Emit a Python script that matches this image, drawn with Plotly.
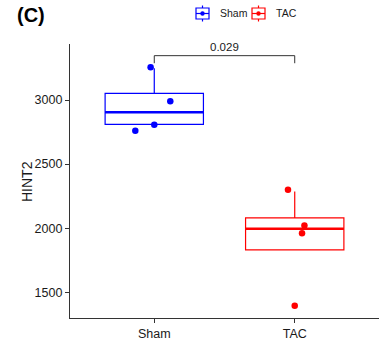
import plotly.graph_objects as go

# ---- data ----
groups = ["Sham", "TAC"]
colors = ["#0000FF", "#FF0000"]
q1 = [2810, 1830]
median = [2904, 1995]
q3 = [3052, 2080]
lower_whisker = [2810, 1830]
upper_whisker = [3247, 2286]
sham_points = [3255, 2990, 2807, 2760]
sham_jitter = [-0.026, 0.114, 0.0, -0.135]
tac_points = [2300, 2020, 1960, 1395]
tac_jitter = [-0.048, 0.069, 0.052, 0.0]
p_value = "0.029"
bracket_top = 3346
bracket_foot = 3287
y_ticks = [1500, 2000, 2500, 3000]

points = [sham_points, tac_points]
jitters = [sham_jitter, tac_jitter]
BOX_W = 0.7

W, H = 382, 354
ML, MR, MT, MB = 70, 3, 44, 36
PW, PH = W - ML - MR, H - MT - MB


def px(X):
    return (X - ML) / PW


def py(Y):
    return (H - MB - Y) / PH


fig = go.Figure()
for i, g in enumerate(groups):
    xpos = i + 1
    fig.add_trace(go.Box(
        x=[xpos], q1=[q1[i]], median=[median[i]], q3=[q3[i]],
        lowerfence=[lower_whisker[i]], upperfence=[upper_whisker[i]],
        name=g, width=BOX_W, boxpoints=False, whiskerwidth=0,
        line=dict(color=colors[i], width=1.2),
        fillcolor="rgba(255,255,255,0)",
        showlegend=False, hoverinfo="skip",
    ))
    fig.add_trace(go.Scatter(
        x=[xpos - BOX_W / 2, xpos + BOX_W / 2], y=[median[i], median[i]],
        mode="lines", line=dict(color=colors[i], width=2.6),
        showlegend=False, hoverinfo="skip",
    ))
    fig.add_trace(go.Scatter(
        x=[xpos + j for j in jitters[i]], y=points[i],
        mode="markers", marker=dict(color=colors[i], size=6.5),
        showlegend=False, hoverinfo="skip",
    ))

# significance bracket
fig.add_trace(go.Scatter(
    x=[1, 1, 2, 2], y=[bracket_foot, bracket_top, bracket_top, bracket_foot],
    mode="lines", line=dict(color="#333333", width=1),
    showlegend=False, hoverinfo="skip",
))
fig.add_annotation(x=1.5, y=bracket_top, xref="x", yref="y", text=p_value,
                   showarrow=False, yanchor="bottom", yshift=1,
                   font=dict(size=11.5, color="#1a1a1a"))

# custom legend (box icon with whiskers + dot)
legend_x = [196, 252]
cy = 13.5
for i, g in enumerate(groups):
    x0 = legend_x[i]
    c = colors[i]
    cx = x0 + 6.5
    fig.add_shape(type="rect", xref="paper", yref="paper",
                  x0=px(x0), x1=px(x0 + 13), y0=py(cy + 5.5), y1=py(cy - 5.5),
                  line=dict(color=c, width=1.2), fillcolor="white")
    fig.add_shape(type="line", xref="paper", yref="paper",
                  x0=px(x0), x1=px(x0 + 13), y0=py(cy), y1=py(cy),
                  line=dict(color=c, width=1.2))
    fig.add_shape(type="line", xref="paper", yref="paper",
                  x0=px(cx), x1=px(cx), y0=py(cy - 8), y1=py(cy - 5.5),
                  line=dict(color=c, width=1.2))
    fig.add_shape(type="line", xref="paper", yref="paper",
                  x0=px(cx), x1=px(cx), y0=py(cy + 5.5), y1=py(cy + 8),
                  line=dict(color=c, width=1.2))
    fig.add_shape(type="circle", xref="paper", yref="paper",
                  x0=px(cx - 2.2), x1=px(cx + 2.2), y0=py(cy + 2.2), y1=py(cy - 2.2),
                  line=dict(color=c, width=0), fillcolor=c)
    fig.add_annotation(x=px(x0 + 22), y=py(cy), xref="paper", yref="paper", text=g,
                       showarrow=False, xanchor="left", yanchor="middle",
                       font=dict(size=10.5, color="#1a1a1a"))

fig.add_annotation(x=px(15), y=py(15), xref="paper", yref="paper", text="<b>(C)</b>",
                   showarrow=False, xanchor="left", yanchor="middle",
                   font=dict(size=20, color="black"))

fig.add_annotation(x=px(27), y=0.5, xref="paper", yref="paper", text="HINT2",
                   showarrow=False, textangle=-90, xanchor="center", yanchor="middle",
                   font=dict(size=14, color="#1a1a1a"))

fig.update_layout(
    width=W, height=H,
    margin=dict(l=ML, r=MR, t=MT, b=MB),
    plot_bgcolor="white", paper_bgcolor="white",
    font=dict(family="Liberation Sans, Arial, sans-serif", color="#1a1a1a", size=12),
    showlegend=False,
    xaxis=dict(range=[0.4, 2.6], tickvals=[1, 2], ticktext=groups,
               showgrid=False, zeroline=False, showline=True, linecolor="#333333",
               linewidth=1.2, ticks="outside", ticklen=4, tickcolor="#333333",
               tickfont=dict(size=12.5, color="#1a1a1a")),
    yaxis=dict(range=[1299, 3437], tickvals=y_ticks,
               showgrid=False, zeroline=False, showline=True, linecolor="#333333",
               linewidth=1.2, ticks="outside", ticklen=4, tickcolor="#333333",
               tickfont=dict(size=12.5, color="#1a1a1a")),
)

fig.write_html("out.html")
